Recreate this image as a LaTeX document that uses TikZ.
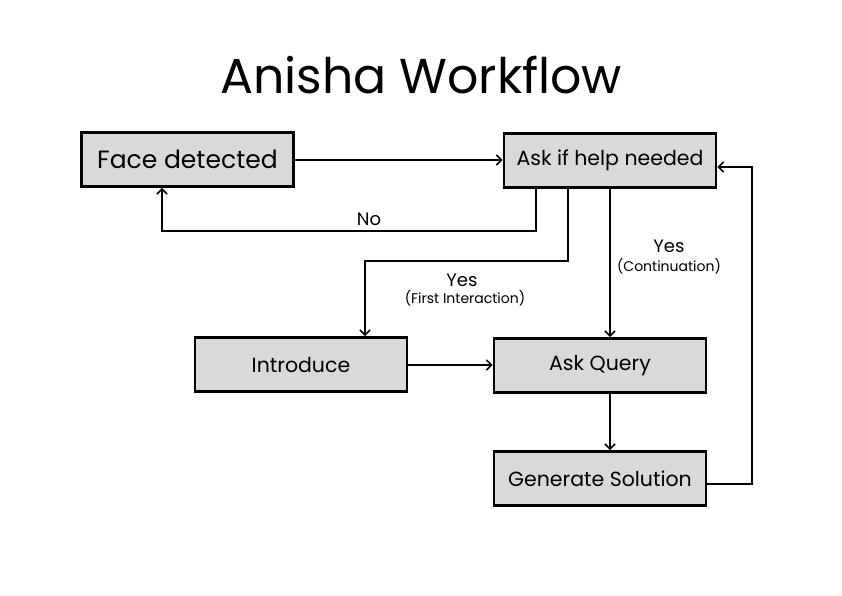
\documentclass[tikz,border=0pt]{standalone}
\usepackage{fontspec}
\setmainfont{Poppins}
\usetikzlibrary{arrows.meta}
\definecolor{boxgray}{HTML}{D9D9D9}
\begin{document}
\begin{tikzpicture}[x=1pt,y=-1pt,
  box/.style={draw=black,line width=2.8pt,fill=boxgray,minimum width=212pt,minimum height=54pt,inner sep=0pt,font=\fontsize{20.5}{24}\selectfont},
  conn/.style={line width=1.6pt,-{Straight Barb[length=5pt,width=10pt]}},
  lbl/.style={font=\fontsize{18}{21}\selectfont,inner sep=0pt},
  sub/.style={font=\fontsize{14}{16}\selectfont,inner sep=0pt}]
\useasboundingbox (0,0) rectangle (842,595);
\node[font=\fontsize{49}{56}\selectfont] (title) at (421,75) {Anisha Workflow};
\node[box,font=\fontsize{25}{30}\selectfont] (face) at (187.5,159.5) {Face detected};
\node[box] (ask) at (610,160.5) {Ask if help needed};
\node[box] (intro) at (301,364.5) {Introduce};
\node[box] (query) at (600,365.5) {Ask Query};
\node[box] (gen) at (600,478.5) {Generate Solution};
\coordinate (loopR) at (752,484);
\draw[conn] (face.east |- 0,160) -- (ask.west |- 0,160);
\draw[conn] (ask.south -| 536,0) -- (536,231) -- (162,231) -- (face.south -| 162,0);
\node[lbl] (no) at (369,219) {No};
\draw[conn] (ask.south -| 568,0) -- (568,261) -- (365,261) -- (intro.north -| 365,0);
\node[lbl] (yes1) at (462,280) {Yes};
\node[sub] (fi) at (465,298) {(First Interaction)};
\draw[conn] (ask.south -| 610,0) -- (query.north -| 610,0);
\node[lbl] (yes2) at (669,246) {Yes};
\node[sub] (cont) at (669,266) {(Continuation)};
\draw[conn] (intro.east |- 0,365) -- (query.west |- 0,365);
\draw[conn] (query.south -| 610,0) -- (gen.north -| 610,0);
\draw[conn] (gen.east |- 0,484) -- (loopR) -- (752,167) -- (ask.east |- 0,167);
\end{tikzpicture}
\end{document}
